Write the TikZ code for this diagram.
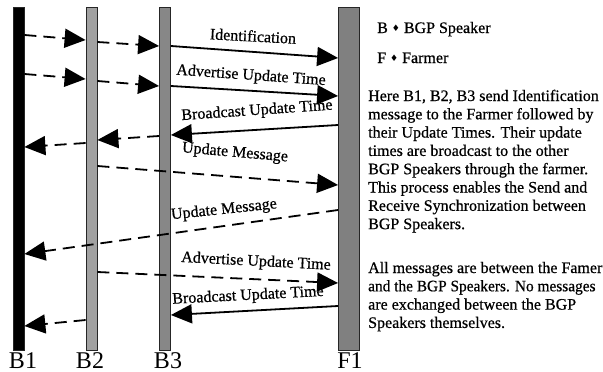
\documentclass[tikz,border=0pt]{standalone}
\usepackage{fontspec}
\setmainfont{Liberation Serif}
\newfontfamily\heavy{Liberation Serif}[FakeBold=0.6]
\newfontfamily\symfont{DejaVu Sans}
\usetikzlibrary{arrows.meta}
\newcommand{\keymark}{\raisebox{1.5pt}{\symfont\fontsize{9}{9}\selectfont ♦}}

\begin{document}
\begin{tikzpicture}[x=1pt,y=-1pt,
  lifeline/.style={draw=black!85, line width=0.8pt, minimum height=343pt,
    inner sep=0pt, anchor=north},
  msg/.style={line width=1.8pt, -{Triangle[length=21pt,width=19pt]}},
  dmsg/.style={msg, dash pattern=on 12pt off 7pt},
  lbl/.style={font=\heavy\fontsize{16}{16}\selectfont, inner sep=0pt},
  lname/.style={font=\fontsize{24}{24}\selectfont, anchor=base, inner sep=0pt},
  note/.style={font=\heavy\fontsize{16}{16}\selectfont, anchor=base west, inner sep=0pt}
]
\useasboundingbox (0,0) rectangle (603,372);

% lifelines
\node[lifeline, fill=black, minimum width=11pt] (b1) at (18.5,7) {};
\node[lifeline, fill=black!37, minimum width=11pt] (b2) at (91.5,7) {};
\node[lifeline, fill=black!47, minimum width=11pt] (b3) at (165,7) {};
\node[lifeline, fill=black!50, minimum width=21pt] (f1) at (349,7) {};

% lifeline names
\node[lname] (nb1) at (23,368) {B1};
\node[lname] (nb2) at (90,368) {B2};
\node[lname] (nb3) at (168,368) {B3};
\node[lname] (nf1) at (350,368) {F1};

% identification
\draw[dmsg] (b1.east |- 0,35) -- (b2.west |- 0,40);
\draw[dmsg] (b2.east |- 0,42) -- (b3.west |- 0,46);
\draw[msg]  (b3.east |- 0,46) -- (f1.west |- 0,58);
\node[lbl, rotate=-3] (t1) at (253,36) {Identification};

% advertise update time
\draw[dmsg] (b1.east |- 0,74) -- (b2.west |- 0,79);
\draw[dmsg] (b2.east |- 0,81) -- (b3.west |- 0,86);
\draw[msg]  (b3.east |- 0,86) -- (f1.west |- 0,96);
\node[lbl, rotate=-4] (t2) at (251,76) {Advertise Update Time};

% broadcast update time
\draw[msg]  (f1.west |- 0,125) -- (b3.east |- 0,135);
\draw[dmsg] (b3.west |- 0,136) -- (b2.east |- 0,140);
\draw[dmsg] (b2.west |- 0,143) -- (b1.east |- 0,147);
\node[lbl, rotate=4] (t3) at (257,111) {Broadcast Update Time};

% update messages
\draw[dmsg] (b2.east |- 0,166) -- (f1.west |- 0,185);
\node[lbl, rotate=-5] (t4) at (235,153) {Update Message};
\draw[dmsg] (f1.west |- 0,210) -- (b1.east |- 0,254);
\node[lbl, rotate=6] (t5) at (224,210) {Update Message};

% second round of update times
\draw[dmsg] (b2.east |- 0,272) -- (f1.west |- 0,283);
\node[lbl, rotate=-3] (t6) at (256,262) {Advertise Update Time};
\draw[msg]  (f1.west |- 0,306) -- (b3.east |- 0,315);
\node[lbl, rotate=3] (t7) at (248,296) {Broadcast Update Time};
\draw[dmsg] (b2.west |- 0,320) -- (b1.east |- 0,326);

% legend
\node[note] (kb) at (377,33) {B \keymark{} BGP Speaker};
\node[note] (kf) at (377,63) {F \keymark{} Farmer};

% explanation
\foreach \txt [count=\n from 0] in {
  Here B1{,} B2{,} B3 send Identification,
  message to the Farmer followed by,
  their Update Times. Their update,
  times are broadcast to the other,
  BGP Speakers through the farmer.,
  This process enables the Send and,
  Receive Synchronization between,
  BGP Speakers.}
  \node[note] (pa\n) at (368,101+18.3*\n) {\txt};

\node[note] (pb0) at (368,273) {All messages are between the Famer};
\node[note, xscale=0.96] (pb1) at (368,291.3) {and the BGP Speakers. No messages};
\node[note] (pb2) at (368,309.6) {are exchanged between the BGP};
\node[note] (pb3) at (368,327.9) {Speakers themselves.};
\end{tikzpicture}
\end{document}
